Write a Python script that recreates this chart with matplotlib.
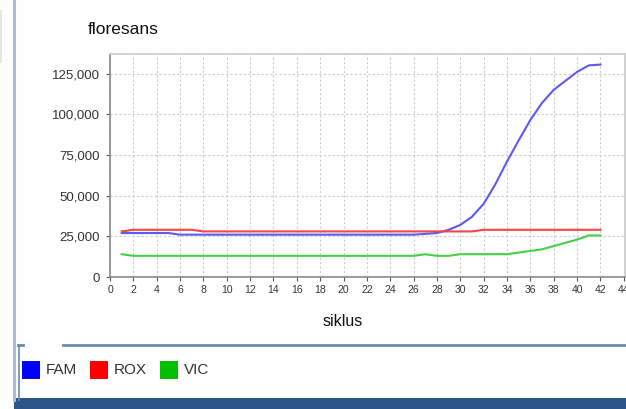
import matplotlib
matplotlib.use("Agg")
import matplotlib.pyplot as plt
from matplotlib.patches import Rectangle
from matplotlib.lines import Line2D
from matplotlib.ticker import FuncFormatter

plt.rcParams['font.family'] = ['Liberation Sans', 'DejaVu Sans']

cycles = list(range(1, 43))
fam = [27000, 27000, 27000, 27000, 27000, 26000, 26000, 26000, 26000, 26000,
       26000, 26000, 26000, 26000, 26000, 26000, 26000, 26000, 26000, 26000,
       26000, 26000, 26000, 26000, 26000, 26000, 26500, 27000, 29000, 32000,
       37000, 45000, 57000, 71000, 84000, 96500, 107000, 115000, 120500, 126000,
       130000, 130500]
rox = [28000, 29000, 29000, 29000, 29000, 29000, 29000, 28000, 28000, 28000,
       28000, 28000, 28000, 28000, 28000, 28000, 28000, 28000, 28000, 28000,
       28000, 28000, 28000, 28000, 28000, 28000, 28000, 28000, 28000, 28000,
       28000, 29000, 29000, 29000, 29000, 29000, 29000, 29000, 29000, 29000,
       29000, 29000]
vic = [14000, 13000, 13000, 13000, 13000, 13000, 13000, 13000, 13000, 13000,
       13000, 13000, 13000, 13000, 13000, 13000, 13000, 13000, 13000, 13000,
       13000, 13000, 13000, 13000, 13000, 13000, 14000, 13000, 13000, 14000,
       14000, 14000, 14000, 14000, 15000, 16000, 17000, 19000, 21000, 23000,
       25500, 25500]
series_names = ['FAM', 'ROX', 'VIC']
line_colors = ['#5a5af5', '#f54545', '#45d045']
legend_colors = ['#0000ff', '#ff0000', '#00c000']
x_ticks = list(range(0, 46, 2))
y_ticks = [0, 25000, 50000, 75000, 100000, 125000]

W, H = 626, 409
fig = plt.figure(figsize=(W / 100, H / 100), dpi=100)
fig.patch.set_facecolor('white')

def fx(px):
    return px / W

def fy(py):
    return 1 - py / H

ax = fig.add_axes([fx(110), fy(277), fx(625) - fx(110), fy(54) - fy(277)])
for vals, c in zip([fam, rox, vic], line_colors):
    ax.plot(cycles, vals, color=c, lw=1.5, zorder=3)

ax.set_xlim(0, 44.1)
ax.set_ylim(0, 137000)
ax.set_xticks(x_ticks)
ax.set_yticks(y_ticks)
ax.yaxis.set_major_formatter(FuncFormatter(lambda v, p: f"{int(v):,}"))
ax.tick_params(axis='x', labelsize=7.5, colors='#555555', length=3, width=0.8, pad=3)
ax.tick_params(axis='y', labelsize=9.5, colors='#555555', length=3, width=0.8, pad=4)
for lab in ax.get_xticklabels() + ax.get_yticklabels():
    lab.set_color('#333333')
ax.grid(True, color='#cccccc', linestyle=(0, (2, 2)), lw=0.8)
for side in ['top', 'right']:
    ax.spines[side].set_color('#cccccc')
for side in ['left', 'bottom']:
    ax.spines[side].set_color('#888888')
for s in ax.spines.values():
    s.set_linewidth(1.2)

fig.text(fx(88), fy(30), 'floresans', fontsize=12.5, ha='left', va='center', color='#111111')
fig.text(fx(343), fy(322), 'siklus', fontsize=11.5, ha='center', va='center', color='#111111')

# window frame decorations
fig.add_artist(Rectangle((fx(0), fy(63)), fx(2), fy(10) - fy(63), color='#e6e6e6', lw=0))
fig.add_artist(Line2D([fx(14), fx(14)], [fy(0), fy(400)], color='#a9bcd6', lw=2.2))
fig.add_artist(Line2D([fx(63), fx(626)], [fy(345), fy(345)], color='#6a8ab5', lw=2))
fig.add_artist(Line2D([fx(18), fx(23)], [fy(345), fy(345)], color='#6a8ab5', lw=2))
fig.add_artist(Line2D([fx(19), fx(19)], [fy(345), fy(400)], color='#6a8ab5', lw=1.2))
fig.add_artist(Rectangle((fx(14), fy(409)), fx(626) - fx(14), fy(398) - fy(409),
                         color='#2d5587', lw=0))

# legend
lx = 22
for name, c in zip(series_names, legend_colors):
    fig.add_artist(Rectangle((fx(lx), fy(379)), fx(18), fy(361) - fy(379),
                             facecolor=c, edgecolor=c, lw=0))
    fig.text(fx(lx + 24), fy(370.5), name, fontsize=11, ha='left', va='center',
             color='#333333')
    lx += {'FAM': 68, 'ROX': 70, 'VIC': 50}[name]

fig.savefig('out.png', dpi=100)
